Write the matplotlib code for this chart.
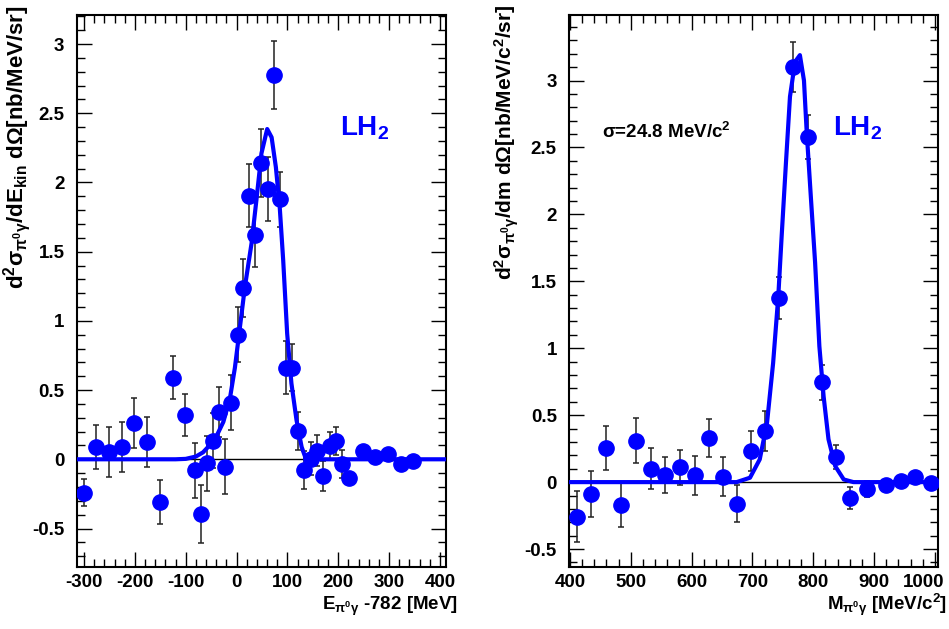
import matplotlib
matplotlib.use("Agg")
import matplotlib.pyplot as plt
from matplotlib.ticker import MultipleLocator, FormatStrFormatter
from matplotlib.transforms import ScaledTranslation

plt.rcParams['font.family'] = ['Liberation Sans', 'DejaVu Sans']
plt.rcParams['font.weight'] = 'bold'
plt.rcParams['axes.labelweight'] = 'bold'
plt.rcParams['mathtext.fontset'] = 'custom'
plt.rcParams['mathtext.rm'] = 'Liberation Sans:bold'
plt.rcParams['mathtext.bf'] = 'Liberation Sans:bold'
plt.rcParams['mathtext.it'] = 'Liberation Sans:bold'
plt.rcParams['mathtext.default'] = 'rm'
plt.rcParams['axes.unicode_minus'] = False

# left panel: E - 782 [MeV]
e_x = [-301, -276, -251, -226, -201, -176, -151, -126, -101,
       -82, -70, -59, -47, -34, -23, -11,
       2, 13, 25, 37, 48, 61, 73, 85, 97, 110, 121, 133,
       146, 158, 171, 183, 196, 208, 221,
       248, 273, 298, 323, 348]
e_y = [-0.24, 0.09, 0.055, 0.087, 0.26, 0.127, -0.31, 0.59, 0.32,
       -0.08, -0.394, -0.03, 0.134, 0.343, -0.053, 0.41,
       0.90, 1.24, 1.905, 1.622, 2.141, 1.954, 2.776, 1.877, 0.663, 0.663, 0.204, -0.077,
       0.005, 0.062, -0.12, 0.096, 0.132, -0.036, -0.137,
       0.06, 0.02, 0.038, -0.034, -0.01]
e_err = [0.10, 0.16, 0.18, 0.18, 0.18, 0.18, 0.16, 0.155, 0.15,
         0.20, 0.21, 0.20, 0.20, 0.18, 0.20, 0.20,
         0.20, 0.21, 0.23, 0.235, 0.246, 0.23, 0.244, 0.20, 0.19, 0.17, 0.14, 0.14,
         0.12, 0.11, 0.11, 0.10, 0.10, 0.10, 0.03,
         0.03, 0.03, 0.03, 0.03, 0.03]
e_fit_x = [-314, -120, -100, -80, -66, -43, -26, -13, -3.3, 6.5, 16.4, 29.5, 39, 49,
           60.3, 69, 77.4, 85, 91.8, 99.6, 108, 118, 128, 136, 145, 412]
e_fit_y = [0, 0, 0.003, 0.02, 0.05, 0.14, 0.27, 0.44, 0.66, 0.95, 1.245, 1.56, 1.87, 2.21,
           2.386, 2.326, 2.11, 1.82, 1.437, 0.908, 0.548, 0.283, 0.09, 0.007, 0, 0]

# right panel: M [MeV/c^2]
m_x = [411, 435, 459, 484, 508, 533, 557, 581, 605, 628, 651, 674, 697,
       721, 744, 767, 791, 814, 837, 861, 889, 919, 944, 968, 993]
m_y = [-0.26, -0.087, 0.254, -0.17, 0.31, 0.10, 0.052, 0.11, 0.052, 0.33, 0.04, -0.16, 0.23,
       0.38, 1.376, 3.10, 2.575, 0.746, 0.187, -0.12, -0.05, -0.025, 0.007, 0.04, -0.005]
m_err = [0.19, 0.17, 0.165, 0.165, 0.17, 0.155, 0.135, 0.13, 0.145, 0.14, 0.145, 0.14, 0.15,
         0.15, 0.16, 0.187, 0.164, 0.13, 0.09, 0.08, 0.06, 0.03, 0.03, 0.03, 0.03]
m_fit_x = [399, 674, 696, 712, 724, 734, 742.5, 748, 755, 761.7, 770, 778, 784.7, 789,
           796, 803, 810, 817, 825, 836, 850, 866, 1004.5]
m_fit_y = [0, 0, 0.033, 0.17, 0.443, 0.89, 1.39, 1.836, 2.38, 2.88, 3.14, 3.19, 3.0, 2.63,
           2.13, 1.64, 1.015, 0.64, 0.32, 0.12, 0.02, 0, 0]

blue = '#0000ff'
fs = 13.5

fig = plt.figure(figsize=(9.49, 6.29), dpi=100)
ax1 = fig.add_axes([0.0811, 0.0986, 0.3888, 0.8776])
ax2 = fig.add_axes([0.5999, 0.0986, 0.3882, 0.8776])


def draw(ax, x, y, err, fx, fy, xlim, ylim, xmaj, xmin):
    ax.axhline(0, color='black', lw=1.0, zorder=1)
    ax.errorbar(x, y, yerr=err, fmt='none', ecolor='#222222', elinewidth=1.1,
                capsize=2.2, capthick=1.1, zorder=2)
    ax.plot(fx, fy, color=blue, lw=3.0, zorder=3)
    ax.plot(x, y, 'o', color=blue, ms=11, mec=blue, zorder=4)
    ax.set_xlim(*xlim)
    ax.set_ylim(*ylim)
    ax.xaxis.set_major_locator(MultipleLocator(xmaj))
    ax.xaxis.set_minor_locator(MultipleLocator(xmin))
    ax.yaxis.set_major_locator(MultipleLocator(0.5))
    ax.yaxis.set_minor_locator(MultipleLocator(0.1))
    ax.yaxis.set_major_formatter(FormatStrFormatter('%g'))
    ax.xaxis.set_major_formatter(FormatStrFormatter('%g'))
    ax.tick_params(which='both', direction='in', top=True, right=True, width=1.0,
                   labelsize=fs)
    ax.tick_params(which='major', length=11)
    ax.tick_params(which='minor', length=6)
    ax.tick_params(axis='y', which='major', pad=9)
    ax.tick_params(axis='x', which='major', pad=5)
    for s in ax.spines.values():
        s.set_linewidth(1.5)


draw(ax1, e_x, e_y, e_err, e_fit_x, e_fit_y, (-314, 412), (-0.778, 3.21), 100, 20)
draw(ax2, m_x, m_y, m_err, m_fit_x, m_fit_y, (399, 1004.5), (-0.634, 3.49), 100, 20)

ax1.set_xlabel(r'E$_{\pi^{0}\gamma}$ -782 [MeV]', fontsize=fs, ha='right', va='baseline')
ax1.xaxis.set_label_coords(1.033, -0.078)
ax2.set_xlabel(r'M$_{\pi^{0}\gamma}$ [MeV/c$^{2}$]', fontsize=fs, ha='right', va='baseline')
ax2.xaxis.set_label_coords(1.025, -0.078)

ax1.set_ylabel(r'd$^{2}\sigma_{\pi^{0}\gamma}$/dE$_{kin}$ d$\Omega$[nb/MeV/sr]',
               fontsize=16, ha='right', va='center')
ax1.yaxis.set_label_coords(-0.163, 1.018)
ax2.set_ylabel(r'd$^{2}\sigma_{\pi^{0}\gamma}$/dm d$\Omega$[nb/MeV/c$^{2}$/sr]',
               fontsize=15, ha='right', va='center')
ax2.yaxis.set_label_coords(-0.171, 1.018)

ax1.text(203, 2.336, r'LH$_{2}$', color=blue, fontsize=20, ha='left', va='baseline')
ax2.text(833, 2.587, r'LH$_{2}$', color=blue, fontsize=20, ha='left', va='baseline')
ax2.text(452, 2.57, r'$\sigma$=24.8 MeV/c$^{2}$', color='black', fontsize=13.5,
         ha='left', va='baseline')

# shift the last tick label left so it stays inside the figure (as ROOT does)
fig.canvas.draw()
shift = ScaledTranslation(-11 / 100, 0, fig.dpi_scale_trans)
for lbl in ax2.get_xticklabels():
    if lbl.get_text() == '1000':
        lbl.set_transform(lbl.get_transform() + shift)

fig.savefig('out.png', dpi=100)
